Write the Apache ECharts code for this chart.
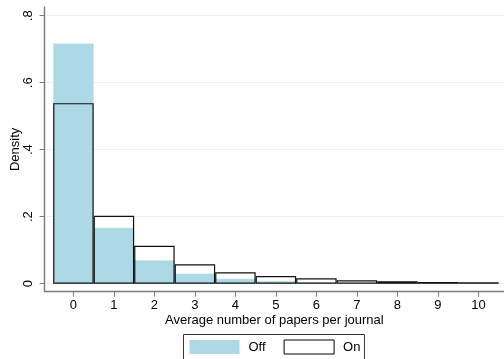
<!DOCTYPE html>
<html>
<head>
<meta charset="utf-8">
<script src="https://cdn.jsdelivr.net/npm/echarts@6/dist/echarts.min.js"></script>
<style>html,body{margin:0;padding:0;background:#fff}#c{width:504px;height:359px}</style>
</head>
<body>
<div id="c"></div>
<script>
const categories = [0, 1, 2, 3, 4, 5, 6, 7, 8, 9, 10];
const offValues = [0.717, 0.167, 0.070, 0.030, 0.015, 0.008, 0.004, 0.002, 0.001, 0.001, 0.001];
const onValues = [0.539, 0.203, 0.113, 0.058, 0.034, 0.023, 0.016, 0.010, 0.007, 0.005, 0.004];
const yTicks = [0, 0.2, 0.4, 0.6, 0.8];
const xTicks = [0, 1, 2, 3, 4, 5, 6, 7, 8, 9, 10];
const seriesNames = ['Off', 'On'];
const xTitle = 'Average number of papers per journal';
const yTitle = 'Density';

const font = 'Liberation Sans, Arial, Helvetica, sans-serif';
const chart = echarts.init(document.getElementById('c'), null, {renderer: 'canvas'});
const pair = vals => categories.map((c, i) => [c, vals[i]]);

chart.setOption({
  animation: false,
  backgroundColor: '#fff',
  textStyle: {fontFamily: font},
  grid: {left: 44.7, right: 0, top: 7, bottom: 67.3, containLabel: false, outerBoundsMode: 'none'},
  xAxis: {
    type: 'value',
    min: -0.709, max: 10.632,
    name: xTitle, nameLocation: 'middle', nameGap: 22, nameMoveOverlap: false,
    nameTextStyle: {color: '#000', fontSize: 13, fontFamily: font},
    axisLine: {show: true, onZero: false, lineStyle: {color: '#7a7a7a', width: 1.4}},
    axisTick: {show: true, length: 5, customValues: xTicks, lineStyle: {color: '#7a7a7a', width: 1}},
    axisLabel: {customValues: xTicks, color: '#000', fontSize: 13, margin: 7, fontFamily: font},
    splitLine: {show: false}
  },
  yAxis: {
    type: 'value',
    min: -0.0239, max: 0.826,
    name: yTitle, nameLocation: 'middle', nameGap: 23, nameRotate: 90, nameMoveOverlap: false,
    nameTextStyle: {color: '#000', fontSize: 13, fontFamily: font},
    axisLine: {show: true, onZero: false, lineStyle: {color: '#7a7a7a', width: 1.4}},
    axisTick: {show: true, length: 5, customValues: yTicks, lineStyle: {color: '#7a7a7a', width: 1}},
    axisLabel: {customValues: yTicks, rotate: 90, color: '#000', fontSize: 13, margin: 10, fontFamily: font,
      formatter: v => v === 0 ? '0' : String(v).replace(/^0/, '')},
    splitLine: {show: true, lineStyle: {color: '#eaf1f3', width: 1}}
  },
  legend: {
    left: 183.5, top: 334.5,
    data: [
      {name: seriesNames[0], itemStyle: {color: '#add8e6', borderWidth: 0}},
      {name: seriesNames[1], itemStyle: {color: '#fff', borderColor: '#000', borderWidth: 1}}
    ],
    icon: 'rect', itemWidth: 50, itemHeight: 14, itemGap: 18,
    padding: [5, 4, 8, 6],
    borderColor: '#333', borderWidth: 1,
    textStyle: {color: '#000', fontSize: 13, fontFamily: font, padding: [0, 0, 0, 4]}
  },
  series: [
    {
      name: seriesNames[0], type: 'bar', data: pair(offValues),
      barWidth: 40.5, barGap: '-100%',
      itemStyle: {color: '#add8e6', borderColor: '#c4e2eb', borderWidth: 0.6},
      z: 2
    },
    {
      name: seriesNames[1], type: 'bar', data: pair(onValues),
      barWidth: 40.5, barGap: '-100%',
      itemStyle: {color: 'rgba(0,0,0,0)', borderColor: '#111', borderWidth: 1.2},
      z: 3
    }
  ]
});
</script>
</body>
</html>
